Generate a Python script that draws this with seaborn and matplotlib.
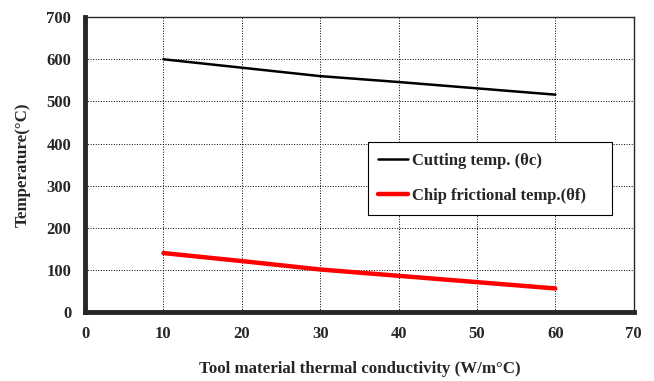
import matplotlib
matplotlib.use("Agg")
import matplotlib.pyplot as plt
import seaborn as sns
import pandas as pd

conductivity = [10, 20, 30, 40, 50, 60]
cutting_temp = [600, 580, 560, 546, 531, 516]
chip_temp = [140, 121, 101, 86, 71, 56]

sns.set_style("white")
plt.rcParams['font.family'] = ['Liberation Serif', 'DejaVu Serif']
plt.rcParams['font.weight'] = 'bold'

df = pd.DataFrame({
    'k': conductivity * 2,
    'temp': cutting_temp + chip_temp,
    'series': ['Cutting temp. (\u03b8c)'] * 6 + ['Chip frictional temp.(\u03b8f)'] * 6,
})

fig = plt.figure(figsize=(6.54, 3.81), dpi=100)
ax = fig.add_axes([0.130, 0.181, 0.839, 0.774])

sns.lineplot(data=df, x='k', y='temp', hue='series', size='series',
             palette={'Cutting temp. (\u03b8c)': 'black',
                      'Chip frictional temp.(\u03b8f)': 'red'},
             sizes={'Cutting temp. (\u03b8c)': 1.8,
                    'Chip frictional temp.(\u03b8f)': 3.2},
             ax=ax, legend=True)

ax.set_xlim(0, 70)
ax.set_ylim(0, 700)
ax.set_xticks(range(0, 71, 10))
ax.set_yticks(range(0, 701, 100))
ax.grid(True, color='black', linestyle=':', linewidth=0.7)

for side in ['left', 'bottom']:
    ax.spines[side].set_linewidth(3.5)
for side in ['top', 'right']:
    ax.spines[side].set_linewidth(1.0)
ax.tick_params(axis='both', direction='out', length=4, width=3, labelsize=12)
ax.tick_params(axis='x', pad=6)
ax.tick_params(axis='y', pad=6)
for lbl in ax.get_xticklabels() + ax.get_yticklabels():
    lbl.set_fontweight('bold')

ax.set_xlabel("Tool material thermal conductivity (W/m\u00b0C)", fontsize=12.2,
              fontweight='bold', labelpad=14)
ax.set_ylabel("Temperature(\u00b0C)", fontsize=12.2, fontweight='bold', labelpad=11)

leg = ax.legend(loc='center', bbox_to_anchor=(0.515, 0.329, 0.445, 0.247),
                mode='expand', borderaxespad=0, frameon=True, fancybox=False,
                edgecolor='black', framealpha=1, fontsize=12, handlelength=1.8,
                handletextpad=0.2, labelspacing=1.15, borderpad=0.65)
leg.get_frame().set_linewidth(0.8)
for t in leg.get_texts():
    t.set_fontweight('bold')

fig.savefig("out.png", dpi=100)
